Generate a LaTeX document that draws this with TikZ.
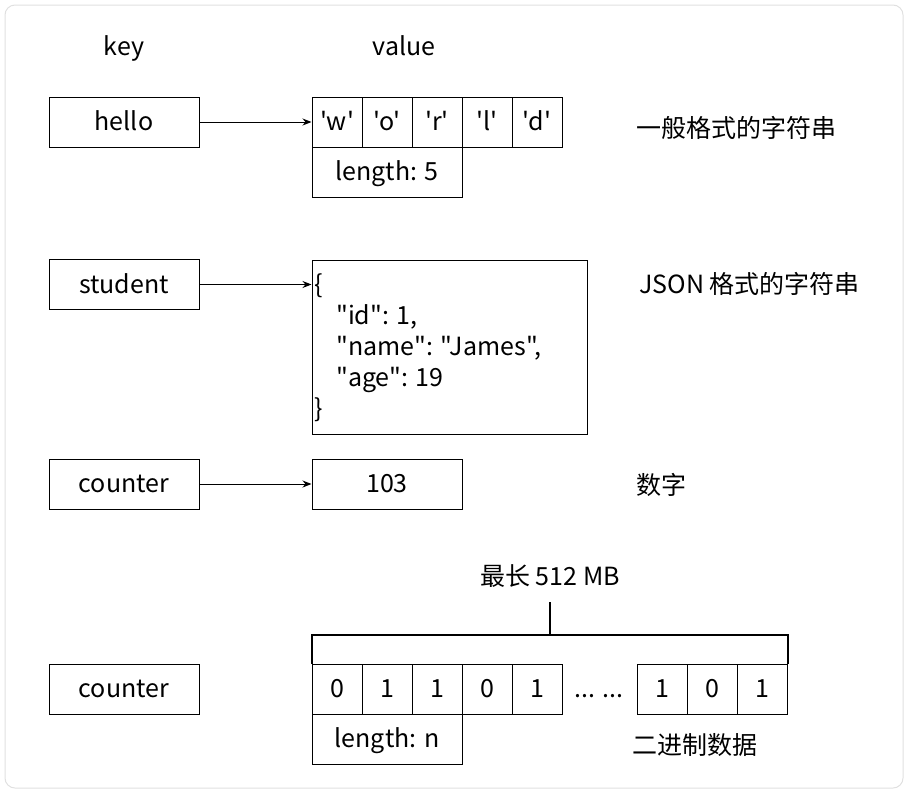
\documentclass[tikz,border=0pt]{standalone}
\usepackage{fontspec}
\newfontfamily\cjk{Noto Sans CJK SC}
\usetikzlibrary{arrows.meta,calc}
\begin{document}
\begin{tikzpicture}[x=1pt,y=-1pt,
  every node/.style={font=\cjk\fontsize{25}{31}\selectfont, inner sep=0pt},
  txt/.style={text height=21pt, text depth=3.6pt},
  box/.style={txt, draw, line width=1pt, minimum width=150pt, minimum height=50pt},
  cell/.style={txt, draw, line width=1pt, minimum width=50pt, minimum height=50pt},
  lbl/.style={txt, anchor=center},
  arr/.style={line width=1pt, -{Stealth[length=9pt,width=7pt]}},
  brk/.style={line width=2pt}]
\useasboundingbox (0,0) rectangle (909,793);
\draw[rounded corners=10pt, draw=black!12, line width=1pt] (5,5) rectangle (903,788);

\node[lbl] (hkey) at (124,46.5) {key};
\node[lbl] (hval) at (404,46.5) {value};

% row 1
\node[box] (hello) at (124,122) {hello};
\node[cell] (w) at (337,122) {'w'};
\node[cell] (o) at (387,122) {'o'};
\node[cell] (r) at (437,122) {'r'};
\node[cell] (l) at (487,122) {'l'};
\node[cell] (d) at (537,122) {'d'};
\node[box] (len5) at (387,172) {length: 5};
\draw[arr] (hello) -- (w);
\node[txt, anchor=west] (t1) at (636,128.5) {一般格式的字符串};

% row 2
\node[box] (student) at (124,284.5) {student};
\node[draw, line width=1pt, minimum width=275pt, minimum height=174pt] (json) at (449.5,347) {};
\node[anchor=west, align=left] (jtxt) at (314,348) {\{\\\hspace*{22pt}"id": 1,\\\hspace*{22pt}"name": "James",\\\hspace*{22pt}"age": 19\\\}};
\draw[arr] (student) -- (student -| json.west);
\node[txt, anchor=west] (t2) at (639,284.5) {JSON 格式的字符串};

% row 3
\node[box] (counter) at (124,484) {counter};
\node[box] (num) at (387,484) {103};
\draw[arr] (counter) -- (num);
\node[txt, anchor=west] (t3) at (636,485.5) {数字};

% row 4
\node[lbl] (max) at (550,577) {最长 512 MB};
\node[box] (counter2) at (124,689) {counter};
\node[cell] (b1) at (337,689) {0};
\node[cell] (b2) at (387,689) {1};
\node[cell] (b3) at (437,689) {1};
\node[cell] (b4) at (487,689) {0};
\node[cell] (b5) at (537,689) {1};
\node[lbl] (dots) at (599,689) {... ...};
\node[cell] (e1) at (662,689) {1};
\node[cell] (e2) at (712,689) {0};
\node[cell] (e3) at (762,689) {1};
\node[box] (lenn) at (387,739) {length: n};
\node[lbl] (t4) at (695,745.5) {二进制数据};
\coordinate (bl) at ([yshift=29pt]b1.north west);
\coordinate (br) at ([yshift=29pt]e3.north east);
\draw[brk] (b1.north west) -- (bl) -- (br) -- (e3.north east);
\coordinate (bm) at ($(bl)!0.5!(br)$);
\draw[brk] (bm) -- ([yshift=-12pt]max.south -| bm);
\end{tikzpicture}
\end{document}
